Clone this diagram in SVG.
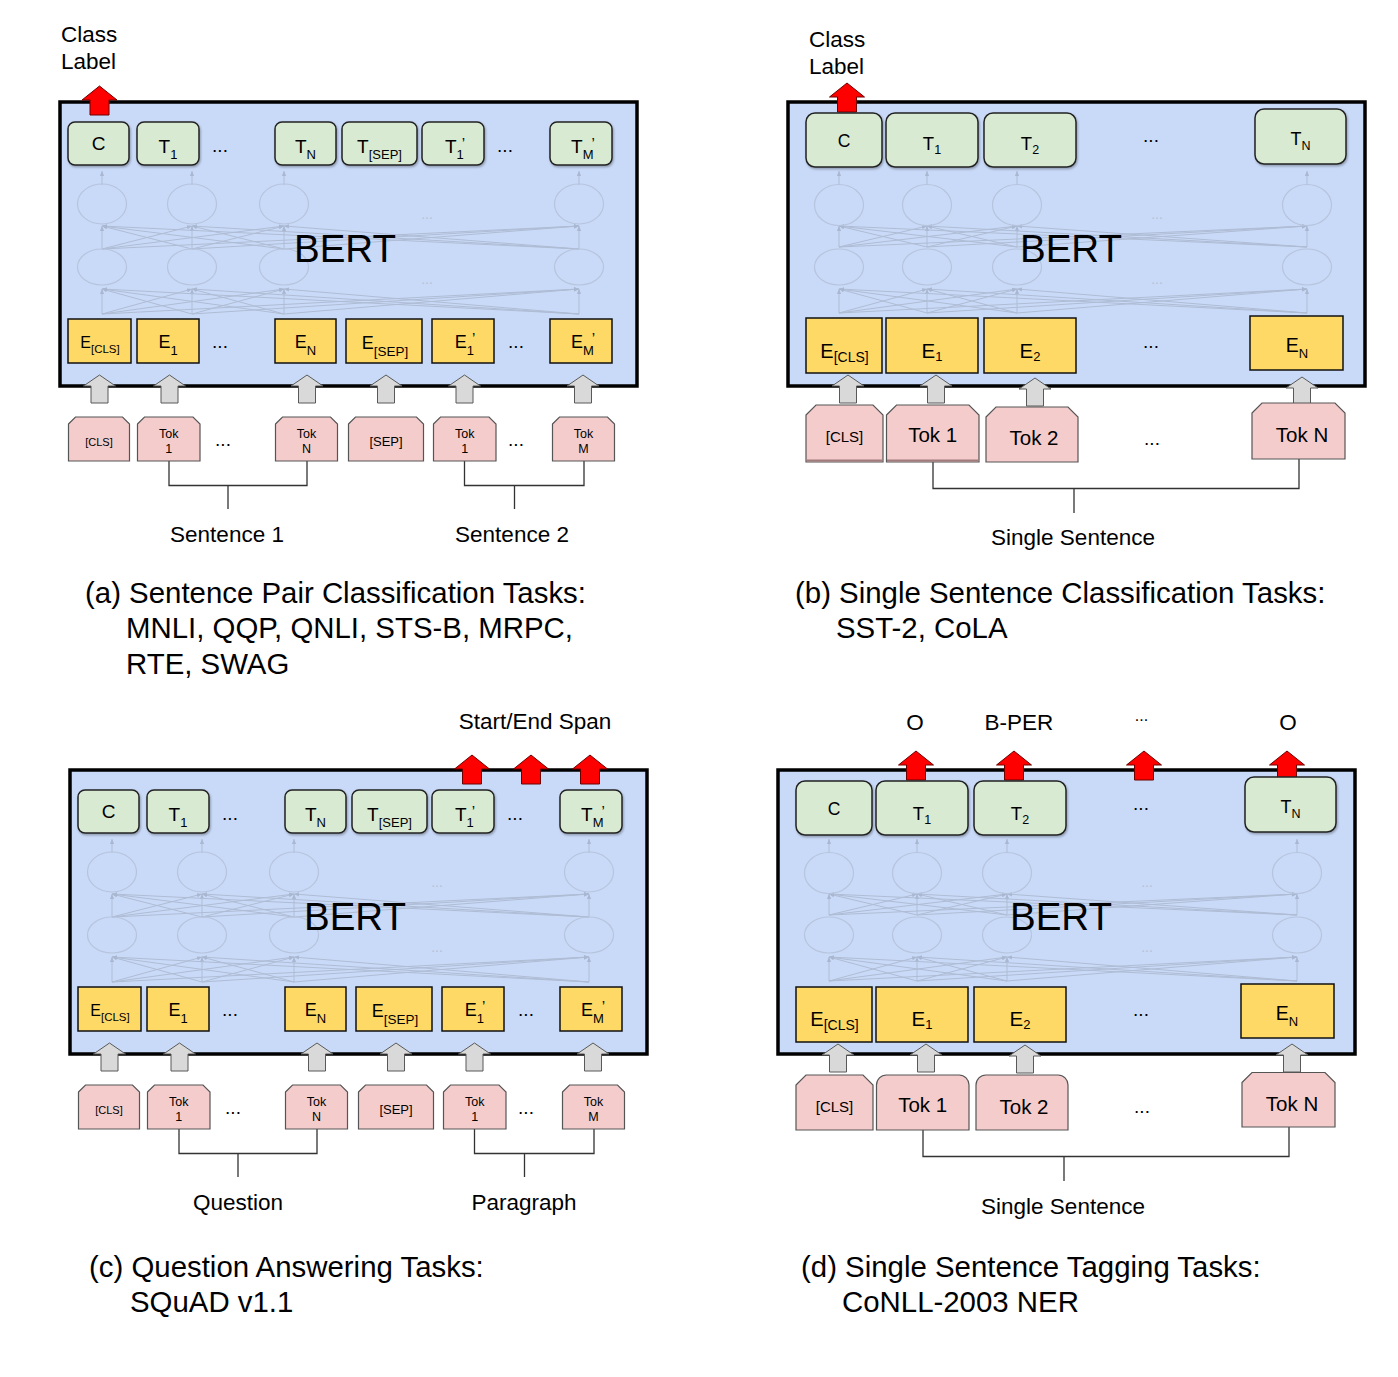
<svg xmlns="http://www.w3.org/2000/svg" xmlns:xlink="http://www.w3.org/1999/xlink" width="1398" height="1377" viewBox="0 0 1398 1377">
<style>
text{font-family:"Liberation Sans",Arial,sans-serif;fill:#000}
.m{text-anchor:middle}
.bert{fill:#c9daf8;stroke:#000;stroke-width:3.5}
.bt{font-size:38.5px;text-anchor:middle}
.tb{fill:#d9ead3;stroke:#222;stroke-width:1.5;filter:url(#sh)}
.eb{fill:#ffd966;stroke:#111;stroke-width:1.5}
.pk{fill:#f4cccc;stroke:#555;stroke-width:1.2}
.ga{fill:#d9d9d9;stroke:#595959;stroke-width:1}
.ra{fill:#ff0000;stroke:#6b0000;stroke-width:1}
.br{fill:none;stroke:#333;stroke-width:1.3}
.nl line{stroke:#afbcd4;stroke-width:1;marker-end:url(#fa)}
.ne{fill:none;stroke:#b6c4dd;stroke-width:1.2}
.fd{fill:#b3c1da;font-size:14px;text-anchor:middle}
.lb{font-size:22.5px}
.cap{font-size:29.4px}
.dots{font-size:19px;text-anchor:middle}
</style>
<defs>
<filter id="sh" x="-10%" y="-10%" width="130%" height="140%"><feDropShadow dx="1" dy="1.5" stdDeviation="1" flood-color="#000" flood-opacity="0.3"/></filter>
<marker id="fa" viewBox="0 0 6 6" refX="6" refY="3" markerWidth="5" markerHeight="5" orient="auto"><path d="M0,0.5 L6,3 L0,5.5 Z" fill="#a9b7d1"/></marker>
<path id="garr" class="ga" d="M0,0 L16,11 L8.5,11 L8.5,28 L-8.5,28 L-8.5,11 L-16,11 Z"/>
<path id="rarr" class="ra" d="M0,0 L17.5,14 L9.5,14 L9.5,29 L-9.5,29 L-9.5,14 L-17.5,14 Z"/>
<g id="net-a" class="nl">
<line x1="102" y1="314" x2="102" y2="289"/><line x1="102" y1="314" x2="192" y2="289"/><line x1="102" y1="314" x2="284" y2="289"/><line x1="102" y1="314" x2="579" y2="289"/>
<line x1="192" y1="314" x2="102" y2="289"/><line x1="192" y1="314" x2="192" y2="289"/><line x1="192" y1="314" x2="284" y2="289"/><line x1="192" y1="314" x2="579" y2="289"/>
<line x1="284" y1="314" x2="102" y2="289"/><line x1="284" y1="314" x2="192" y2="289"/><line x1="284" y1="314" x2="284" y2="289"/><line x1="284" y1="314" x2="579" y2="289"/>
<line x1="579" y1="314" x2="102" y2="289"/><line x1="579" y1="314" x2="192" y2="289"/><line x1="579" y1="314" x2="284" y2="289"/><line x1="579" y1="314" x2="579" y2="289"/>
<line x1="102" y1="249" x2="102" y2="226"/><line x1="102" y1="249" x2="192" y2="226"/><line x1="102" y1="249" x2="284" y2="226"/><line x1="102" y1="249" x2="579" y2="226"/>
<line x1="192" y1="249" x2="102" y2="226"/><line x1="192" y1="249" x2="192" y2="226"/><line x1="192" y1="249" x2="284" y2="226"/><line x1="192" y1="249" x2="579" y2="226"/>
<line x1="284" y1="249" x2="102" y2="226"/><line x1="284" y1="249" x2="192" y2="226"/><line x1="284" y1="249" x2="284" y2="226"/><line x1="284" y1="249" x2="579" y2="226"/>
<line x1="579" y1="249" x2="102" y2="226"/><line x1="579" y1="249" x2="192" y2="226"/><line x1="579" y1="249" x2="284" y2="226"/><line x1="579" y1="249" x2="579" y2="226"/>
<line x1="102" y1="185" x2="102" y2="171"/><line x1="192" y1="185" x2="192" y2="171"/><line x1="284" y1="185" x2="284" y2="171"/><line x1="579" y1="185" x2="579" y2="171"/>
<ellipse class="ne" cx="102" cy="204" rx="24.5" ry="20"/><ellipse class="ne" cx="192" cy="204" rx="24.5" ry="20"/><ellipse class="ne" cx="284" cy="204" rx="24.5" ry="20"/><ellipse class="ne" cx="579" cy="204" rx="24.5" ry="20"/>
<ellipse class="ne" cx="102" cy="267" rx="24.5" ry="18"/><ellipse class="ne" cx="192" cy="267" rx="24.5" ry="18"/><ellipse class="ne" cx="284" cy="267" rx="24.5" ry="18"/><ellipse class="ne" cx="579" cy="267" rx="24.5" ry="18"/>
<text class="fd" x="427" y="219">...</text><text class="fd" x="427" y="284">...</text>
</g>
<g id="net-b" class="nl">
<line x1="839" y1="313" x2="839" y2="289"/><line x1="839" y1="313" x2="927" y2="289"/><line x1="839" y1="313" x2="1017" y2="289"/><line x1="839" y1="313" x2="1307" y2="289"/>
<line x1="927" y1="313" x2="839" y2="289"/><line x1="927" y1="313" x2="927" y2="289"/><line x1="927" y1="313" x2="1017" y2="289"/><line x1="927" y1="313" x2="1307" y2="289"/>
<line x1="1017" y1="313" x2="839" y2="289"/><line x1="1017" y1="313" x2="927" y2="289"/><line x1="1017" y1="313" x2="1017" y2="289"/><line x1="1017" y1="313" x2="1307" y2="289"/>
<line x1="1307" y1="313" x2="839" y2="289"/><line x1="1307" y1="313" x2="927" y2="289"/><line x1="1307" y1="313" x2="1017" y2="289"/><line x1="1307" y1="313" x2="1307" y2="289"/>
<line x1="839" y1="247" x2="839" y2="226"/><line x1="839" y1="247" x2="927" y2="226"/><line x1="839" y1="247" x2="1017" y2="226"/><line x1="839" y1="247" x2="1307" y2="226"/>
<line x1="927" y1="247" x2="839" y2="226"/><line x1="927" y1="247" x2="927" y2="226"/><line x1="927" y1="247" x2="1017" y2="226"/><line x1="927" y1="247" x2="1307" y2="226"/>
<line x1="1017" y1="247" x2="839" y2="226"/><line x1="1017" y1="247" x2="927" y2="226"/><line x1="1017" y1="247" x2="1017" y2="226"/><line x1="1017" y1="247" x2="1307" y2="226"/>
<line x1="1307" y1="247" x2="839" y2="226"/><line x1="1307" y1="247" x2="927" y2="226"/><line x1="1307" y1="247" x2="1017" y2="226"/><line x1="1307" y1="247" x2="1307" y2="226"/>
<line x1="839" y1="185" x2="839" y2="171"/><line x1="927" y1="185" x2="927" y2="171"/><line x1="1017" y1="185" x2="1017" y2="171"/><line x1="1307" y1="185" x2="1307" y2="171"/>
<ellipse class="ne" cx="839" cy="205" rx="24.5" ry="20.5"/><ellipse class="ne" cx="927" cy="205" rx="24.5" ry="20.5"/><ellipse class="ne" cx="1017" cy="205" rx="24.5" ry="20.5"/><ellipse class="ne" cx="1307" cy="205" rx="24.5" ry="20.5"/>
<ellipse class="ne" cx="839" cy="267" rx="24.5" ry="18"/><ellipse class="ne" cx="927" cy="267" rx="24.5" ry="18"/><ellipse class="ne" cx="1017" cy="267" rx="24.5" ry="18"/><ellipse class="ne" cx="1307" cy="267" rx="24.5" ry="18"/>
<text class="fd" x="1157" y="219">...</text><text class="fd" x="1157" y="284">...</text>
</g>
</defs>
<rect x="0" y="0" width="1398" height="1377" fill="#fff"/>

<!-- BERT containers -->
<g id="a-bert"><rect class="bert" x="60" y="102" width="577" height="284"/><use href="#net-a"/><text class="bt" x="345" y="262">BERT</text></g>
<g id="b-bert"><rect class="bert" x="788" y="102" width="577" height="284"/><use href="#net-b"/><text class="bt" x="1071" y="262">BERT</text></g>
<g transform="translate(10,668)"><g id="c-bert"><rect class="bert" x="60" y="102" width="577" height="284"/><use href="#net-a"/><text class="bt" x="345" y="262">BERT</text></g></g>
<g transform="translate(-10,668)"><g id="d-bert"><rect class="bert" x="788" y="102" width="577" height="284"/><use href="#net-b"/><text class="bt" x="1071" y="262">BERT</text></g></g>

<!-- connectors -->
<g id="connectors">
 <g id="conn-a">
  <use href="#rarr" x="99.5" y="86"/>
  <use href="#garr" x="99.5" y="375"/><use href="#garr" x="169.5" y="375"/><use href="#garr" x="307" y="375"/><use href="#garr" x="386" y="375"/><use href="#garr" x="464.5" y="375"/><use href="#garr" x="583" y="375"/>
  <path class="br" d="M169,461 V485.5 H307 V461 M228,485.5 V509"/>
  <path class="br" d="M464.5,461 V485.5 H584 V461 M514.5,485.5 V509"/>
 </g>
 <g id="conn-b">
  <use href="#rarr" x="847" y="83"/>
  <use href="#garr" x="848" y="375"/><use href="#garr" x="936" y="375"/><use href="#garr" x="1035" y="378"/><use href="#garr" x="1302" y="377"/>
  <path class="br" d="M933,462 V488.5 H1299 V459 M1074,488.5 V513"/>
 </g>
 <g id="conn-c" transform="translate(10,668)">
  <use href="#rarr" x="462" y="87"/><use href="#rarr" x="521" y="87"/><use href="#rarr" x="580" y="87"/>
  <use href="#garr" x="99.5" y="375"/><use href="#garr" x="169.5" y="375"/><use href="#garr" x="307" y="375"/><use href="#garr" x="386" y="375"/><use href="#garr" x="464.5" y="375"/><use href="#garr" x="583" y="375"/>
  <path class="br" d="M169,461 V485.5 H307 V461 M228,485.5 V509"/>
  <path class="br" d="M464.5,461 V485.5 H584 V461 M514.5,485.5 V509"/>
 </g>
 <g id="conn-d" transform="translate(-10,668)">
  <use href="#rarr" x="926" y="83"/><use href="#rarr" x="1024" y="83"/><use href="#rarr" x="1154" y="83"/><use href="#rarr" x="1297" y="83"/>
  <use href="#garr" x="848" y="376"/><use href="#garr" x="936" y="376"/><use href="#garr" x="1035" y="377"/><use href="#garr" x="1302" y="376"/>
  <path class="br" d="M933,462 V488.5 H1299 V459 M1074,488.5 V513"/>
 </g>
</g>

<!-- Panel (a) -->
<g id="panel-a">
 <g id="a-class-label"><text class="lb" x="61" y="42">Class</text><text class="lb" x="61" y="69">Label</text></g>
 <g id="a-C"><rect class="tb" x="68" y="122" width="61" height="43" rx="7"/><text class="m" x="98.5" y="150" font-size="19">C</text></g>
 <g id="a-T1"><rect class="tb" x="137" y="122" width="62" height="43" rx="7"/><text class="m" x="168" y="153" font-size="19">T<tspan font-size="13" dy="6">1</tspan></text></g>
 <g id="a-TN"><rect class="tb" x="275" y="122" width="61" height="43" rx="7"/><text class="m" x="305.5" y="153" font-size="19">T<tspan font-size="13" dy="6">N</tspan></text></g>
 <g id="a-TSEP"><rect class="tb" x="342" y="122" width="75" height="43" rx="7"/><text class="m" x="379.5" y="153" font-size="19">T<tspan font-size="13" dy="6">[SEP]</tspan></text></g>
 <g id="a-T1p"><rect class="tb" x="422" y="122" width="62" height="43" rx="7"/><text class="m" x="455" y="153" font-size="19">T<tspan font-size="13" dy="6">1</tspan><tspan font-size="15" dx="-2" dy="-11">’</tspan></text></g>
 <g id="a-TMp"><rect class="tb" x="550" y="122" width="62" height="43" rx="7"/><text class="m" x="583" y="153" font-size="19">T<tspan font-size="13" dy="6">M</tspan><tspan font-size="15" dx="-2" dy="-11">’</tspan></text></g>
 <g id="a-Ecls"><rect class="eb" x="68" y="319" width="63" height="44"/><text class="m" x="100" y="348" font-size="16">E<tspan font-size="11.5" dy="5">[CLS]</tspan></text></g>
 <g id="a-E1"><rect class="eb" x="137" y="319" width="62" height="44"/><text class="m" x="168" y="348" font-size="18">E<tspan font-size="13" dy="7">1</tspan></text></g>
 <g id="a-EN"><rect class="eb" x="275" y="319" width="61" height="44"/><text class="m" x="305.5" y="348" font-size="18">E<tspan font-size="13" dy="7">N</tspan></text></g>
 <g id="a-ESEP"><rect class="eb" x="346" y="319" width="76" height="44"/><text class="m" x="385" y="349" font-size="18">E<tspan font-size="13.5" dy="6.5">[SEP]</tspan></text></g>
 <g id="a-E1p"><rect class="eb" x="432" y="319" width="62" height="44"/><text class="m" x="465" y="348" font-size="18">E<tspan font-size="13" dy="7">1</tspan><tspan font-size="15" dx="-2" dy="-12">’</tspan></text></g>
 <g id="a-EMp"><rect class="eb" x="550" y="319" width="62" height="44"/><text class="m" x="583" y="348" font-size="18">E<tspan font-size="13" dy="7">M</tspan><tspan font-size="15" dx="-2" dy="-12">’</tspan></text></g>
 <g id="a-Pcls"><path class="pk" d="M68.5,424 L75.5,417 H122.5 L129.5,424 V461 H68.5 Z"/><text class="m" x="99" y="446" font-size="11">[CLS]</text></g>
 <g id="a-Ptok1"><path class="pk" d="M137.5,424 L144.5,417 H193 L200,424 V461 H137.5 Z"/><text class="m" x="168.7" y="438" font-size="12.5">Tok</text><text class="m" x="168.7" y="453" font-size="12.5">1</text></g>
 <g id="a-PtokN"><path class="pk" d="M275.5,424 L282.5,417 H330.5 L337.5,424 V461 H275.5 Z"/><text class="m" x="306.5" y="438" font-size="12.5">Tok</text><text class="m" x="306.5" y="453" font-size="12.5">N</text></g>
 <g id="a-Psep"><path class="pk" d="M348.5,424 L355.5,417 H416.5 L423.5,424 V461 H348.5 Z"/><text class="m" x="386" y="446" font-size="13">[SEP]</text></g>
 <g id="a-Ptok1p"><path class="pk" d="M433.5,424 L440.5,417 H489 L496,424 V461 H433.5 Z"/><text class="m" x="464.7" y="438" font-size="12.5">Tok</text><text class="m" x="464.7" y="453" font-size="12.5">1</text></g>
 <g id="a-PtokM"><path class="pk" d="M552.5,424 L559.5,417 H607.5 L614.5,424 V461 H552.5 Z"/><text class="m" x="583.5" y="438" font-size="12.5">Tok</text><text class="m" x="583.5" y="453" font-size="12.5">M</text></g>
 <g id="a-dots"><text class="dots" x="220" y="151.5">...</text><text class="dots" x="505" y="151.5">...</text><text class="dots" x="220" y="348">...</text><text class="dots" x="516" y="348">...</text><text class="dots" x="223" y="445.5">...</text><text class="dots" x="516" y="445.5">...</text></g>
 <g id="a-sent1"><text class="lb m" x="227" y="542">Sentence 1</text></g>
 <g id="a-sent2"><text class="lb m" x="512" y="542">Sentence 2</text></g>
 <g id="a-caption"><text class="cap" x="85" y="603">(a) Sentence Pair Classification Tasks:</text><text class="cap" x="126" y="638">MNLI, QQP, QNLI, STS-B, MRPC,</text><text class="cap" x="126" y="674">RTE, SWAG</text></g>
</g>

<!-- Panel (b) -->
<g id="panel-b">
 <g id="b-class-label"><text class="lb" x="809" y="47">Class</text><text class="lb" x="809" y="74">Label</text></g>
 <g id="b-C"><rect class="tb" x="806" y="113" width="76" height="54" rx="9"/><text class="m" x="844" y="147" font-size="17.5">C</text></g>
 <g id="b-T1"><rect class="tb" x="886" y="113" width="92" height="54" rx="9"/><text class="m" x="932" y="150" font-size="18.5">T<tspan font-size="12.5" dy="3.5">1</tspan></text></g>
 <g id="b-T2"><rect class="tb" x="984" y="113" width="92" height="54" rx="9"/><text class="m" x="1030" y="150" font-size="18.5">T<tspan font-size="12.5" dy="3.5">2</tspan></text></g>
 <g id="b-TN"><rect class="tb" x="1255" y="109" width="91" height="55" rx="9"/><text class="m" x="1300.5" y="145" font-size="18">T<tspan font-size="12.5" dy="5">N</tspan></text></g>
 <g id="b-Ecls"><rect class="eb" x="806" y="318" width="76" height="55"/><text class="m" x="844.5" y="358" font-size="20">E<tspan font-size="14" dy="3.5">[CLS]</tspan></text></g>
 <g id="b-E1"><rect class="eb" x="886" y="318" width="92" height="55"/><text class="m" x="932" y="358" font-size="20.5">E<tspan font-size="13" dy="3">1</tspan></text></g>
 <g id="b-E2"><rect class="eb" x="984" y="318" width="92" height="55"/><text class="m" x="1030" y="358" font-size="20.5">E<tspan font-size="13" dy="3">2</tspan></text></g>
 <g id="b-EN"><rect class="eb" x="1250" y="316" width="93" height="54"/><text class="m" x="1297" y="352" font-size="19.5">E<tspan font-size="13" dy="5.5">N</tspan></text></g>
 <g id="b-Pcls"><path class="pk" d="M806,415 L816,405 H873 L883,415 V462 H806 Z"/><line x1="806.5" y1="460.5" x2="882.5" y2="460.5" stroke="#a07c7c" stroke-width="2"/><text class="m" x="844.5" y="442" font-size="15">[CLS]</text></g>
 <g id="b-Ptok1"><path class="pk" d="M886.5,415 L896.5,405 H969 L979,415 V462 H886.5 Z"/><line x1="887" y1="460.5" x2="978.5" y2="460.5" stroke="#a07c7c" stroke-width="2"/><text class="m" x="932.7" y="442" font-size="20.5">Tok 1</text></g>
 <g id="b-Ptok2"><path class="pk" d="M986,417 L996,407 H1068 L1078,417 V462 H986 Z"/><text class="m" x="1034" y="445" font-size="20.5">Tok 2</text></g>
 <g id="b-PtokN"><path class="pk" d="M1252,413 L1262,403 H1335 L1345,413 V459 H1252 Z"/><text class="m" x="1302" y="442" font-size="20.5">Tok N</text></g>
 <g id="b-dots"><text class="dots" x="1151" y="141.5">...</text><text class="dots" x="1151" y="348">...</text><text class="dots" x="1152" y="445">...</text></g>
 <g id="b-sent"><text class="lb m" x="1073" y="545">Single Sentence</text></g>
 <g id="b-caption"><text class="cap" x="795" y="603">(b) Single Sentence Classification Tasks:</text><text class="cap" x="836" y="638">SST-2, CoLA</text></g>
</g>

<!-- Panel (c) -->
<g id="panel-c">
 <g transform="translate(10,668)">
 <g id="c-span-label"><text class="lb m" x="525" y="61">Start/End Span</text></g>
 <g id="c-C"><rect class="tb" x="68" y="122" width="61" height="43" rx="7"/><text class="m" x="98.5" y="150" font-size="19">C</text></g>
 <g id="c-T1"><rect class="tb" x="137" y="122" width="62" height="43" rx="7"/><text class="m" x="168" y="153" font-size="19">T<tspan font-size="13" dy="6">1</tspan></text></g>
 <g id="c-TN"><rect class="tb" x="275" y="122" width="61" height="43" rx="7"/><text class="m" x="305.5" y="153" font-size="19">T<tspan font-size="13" dy="6">N</tspan></text></g>
 <g id="c-TSEP"><rect class="tb" x="342" y="122" width="75" height="43" rx="7"/><text class="m" x="379.5" y="153" font-size="19">T<tspan font-size="13" dy="6">[SEP]</tspan></text></g>
 <g id="c-T1p"><rect class="tb" x="422" y="122" width="62" height="43" rx="7"/><text class="m" x="455" y="153" font-size="19">T<tspan font-size="13" dy="6">1</tspan><tspan font-size="15" dx="-2" dy="-11">’</tspan></text></g>
 <g id="c-TMp"><rect class="tb" x="550" y="122" width="62" height="43" rx="7"/><text class="m" x="583" y="153" font-size="19">T<tspan font-size="13" dy="6">M</tspan><tspan font-size="15" dx="-2" dy="-11">’</tspan></text></g>
 <g id="c-Ecls"><rect class="eb" x="68" y="319" width="63" height="44"/><text class="m" x="100" y="348" font-size="16">E<tspan font-size="11.5" dy="5">[CLS]</tspan></text></g>
 <g id="c-E1"><rect class="eb" x="137" y="319" width="62" height="44"/><text class="m" x="168" y="348" font-size="18">E<tspan font-size="13" dy="7">1</tspan></text></g>
 <g id="c-EN"><rect class="eb" x="275" y="319" width="61" height="44"/><text class="m" x="305.5" y="348" font-size="18">E<tspan font-size="13" dy="7">N</tspan></text></g>
 <g id="c-ESEP"><rect class="eb" x="346" y="319" width="76" height="44"/><text class="m" x="385" y="349" font-size="18">E<tspan font-size="13.5" dy="6.5">[SEP]</tspan></text></g>
 <g id="c-E1p"><rect class="eb" x="432" y="319" width="62" height="44"/><text class="m" x="465" y="348" font-size="18">E<tspan font-size="13" dy="7">1</tspan><tspan font-size="15" dx="-2" dy="-12">’</tspan></text></g>
 <g id="c-EMp"><rect class="eb" x="550" y="319" width="62" height="44"/><text class="m" x="583" y="348" font-size="18">E<tspan font-size="13" dy="7">M</tspan><tspan font-size="15" dx="-2" dy="-12">’</tspan></text></g>
 <g id="c-Pcls"><path class="pk" d="M68.5,424 L75.5,417 H122.5 L129.5,424 V461 H68.5 Z"/><text class="m" x="99" y="446" font-size="11">[CLS]</text></g>
 <g id="c-Ptok1"><path class="pk" d="M137.5,424 L144.5,417 H193 L200,424 V461 H137.5 Z"/><text class="m" x="168.7" y="438" font-size="12.5">Tok</text><text class="m" x="168.7" y="453" font-size="12.5">1</text></g>
 <g id="c-PtokN"><path class="pk" d="M275.5,424 L282.5,417 H330.5 L337.5,424 V461 H275.5 Z"/><text class="m" x="306.5" y="438" font-size="12.5">Tok</text><text class="m" x="306.5" y="453" font-size="12.5">N</text></g>
 <g id="c-Psep"><path class="pk" d="M348.5,424 L355.5,417 H416.5 L423.5,424 V461 H348.5 Z"/><text class="m" x="386" y="446" font-size="13">[SEP]</text></g>
 <g id="c-Ptok1p"><path class="pk" d="M433.5,424 L440.5,417 H489 L496,424 V461 H433.5 Z"/><text class="m" x="464.7" y="438" font-size="12.5">Tok</text><text class="m" x="464.7" y="453" font-size="12.5">1</text></g>
 <g id="c-PtokM"><path class="pk" d="M552.5,424 L559.5,417 H607.5 L614.5,424 V461 H552.5 Z"/><text class="m" x="583.5" y="438" font-size="12.5">Tok</text><text class="m" x="583.5" y="453" font-size="12.5">M</text></g>
 <g id="c-dots"><text class="dots" x="220" y="151.5">...</text><text class="dots" x="505" y="151.5">...</text><text class="dots" x="220" y="348">...</text><text class="dots" x="516" y="348">...</text><text class="dots" x="223" y="445.5">...</text><text class="dots" x="516" y="445.5">...</text></g>
 <g id="c-question"><text class="lb m" x="228" y="542">Question</text></g>
 <g id="c-paragraph"><text class="lb m" x="514" y="542">Paragraph</text></g>
 </g>
 <g id="c-caption"><text class="cap" x="89" y="1277">(c) Question Answering Tasks:</text><text class="cap" x="130" y="1312">SQuAD v1.1</text></g>
</g>

<!-- Panel (d) -->
<g id="panel-d">
 <g transform="translate(-10,668)">
 <g id="d-tags"><text class="lb m" x="925" y="62">O</text><text class="lb m" x="1029" y="62">B-PER</text><text class="m" x="1151.5" y="53" font-size="16">...</text><text class="lb m" x="1298" y="62">O</text></g>
 <g id="d-C"><rect class="tb" x="806" y="113" width="76" height="54" rx="9"/><text class="m" x="844" y="147" font-size="17.5">C</text></g>
 <g id="d-T1"><rect class="tb" x="886" y="113" width="92" height="54" rx="9"/><text class="m" x="932" y="152" font-size="18.5">T<tspan font-size="12.5" dy="3.5">1</tspan></text></g>
 <g id="d-T2"><rect class="tb" x="984" y="113" width="92" height="54" rx="9"/><text class="m" x="1030" y="152" font-size="18.5">T<tspan font-size="12.5" dy="3.5">2</tspan></text></g>
 <g id="d-TN"><rect class="tb" x="1255" y="109" width="91" height="55" rx="9"/><text class="m" x="1300.5" y="145" font-size="18">T<tspan font-size="12.5" dy="5">N</tspan></text></g>
 <g id="d-Ecls"><rect class="eb" x="806" y="319" width="76" height="55"/><text class="m" x="844.5" y="358" font-size="20">E<tspan font-size="14" dy="3.5">[CLS]</tspan></text></g>
 <g id="d-E1"><rect class="eb" x="886" y="319" width="92" height="55"/><text class="m" x="932" y="358" font-size="20.5">E<tspan font-size="13" dy="3">1</tspan></text></g>
 <g id="d-E2"><rect class="eb" x="984" y="319" width="92" height="55"/><text class="m" x="1030" y="358" font-size="20.5">E<tspan font-size="13" dy="3">2</tspan></text></g>
 <g id="d-EN"><rect class="eb" x="1251" y="316" width="93" height="54"/><text class="m" x="1297" y="352" font-size="19.5">E<tspan font-size="13" dy="5.5">N</tspan></text></g>
 <g id="d-Pcls"><path class="pk" d="M806,417 L816,407 H873 L883,417 V462 H806 Z"/><text class="m" x="844.5" y="444" font-size="15">[CLS]</text></g>
 <g id="d-Ptok1"><path class="pk" d="M886.5,462 V417 A10,10 0 0 1 896.5,407 H969 A10,10 0 0 1 979,417 V462 Z"/><text class="m" x="932.7" y="444" font-size="20.5">Tok 1</text></g>
 <g id="d-Ptok2"><path class="pk" d="M986,462 V417 A10,10 0 0 1 996,407 H1068 A10,10 0 0 1 1078,417 V462 Z"/><text class="m" x="1034" y="446" font-size="20.5">Tok 2</text></g>
 <g id="d-PtokN"><path class="pk" d="M1252,414.5 L1262,404.5 H1335 L1345,414.5 V459 H1252 Z"/><text class="m" x="1302" y="443" font-size="20.5">Tok N</text></g>
 <g id="d-dots"><text class="dots" x="1151" y="141.5">...</text><text class="dots" x="1151" y="348">...</text><text class="dots" x="1152" y="445">...</text></g>
 <g id="d-sent"><text class="lb m" x="1073" y="546">Single Sentence</text></g>
 </g>
 <g id="d-caption"><text class="cap" x="801" y="1277">(d) Single Sentence Tagging Tasks:</text><text class="cap" x="842" y="1312">CoNLL-2003 NER</text></g>
</g>
</svg>
